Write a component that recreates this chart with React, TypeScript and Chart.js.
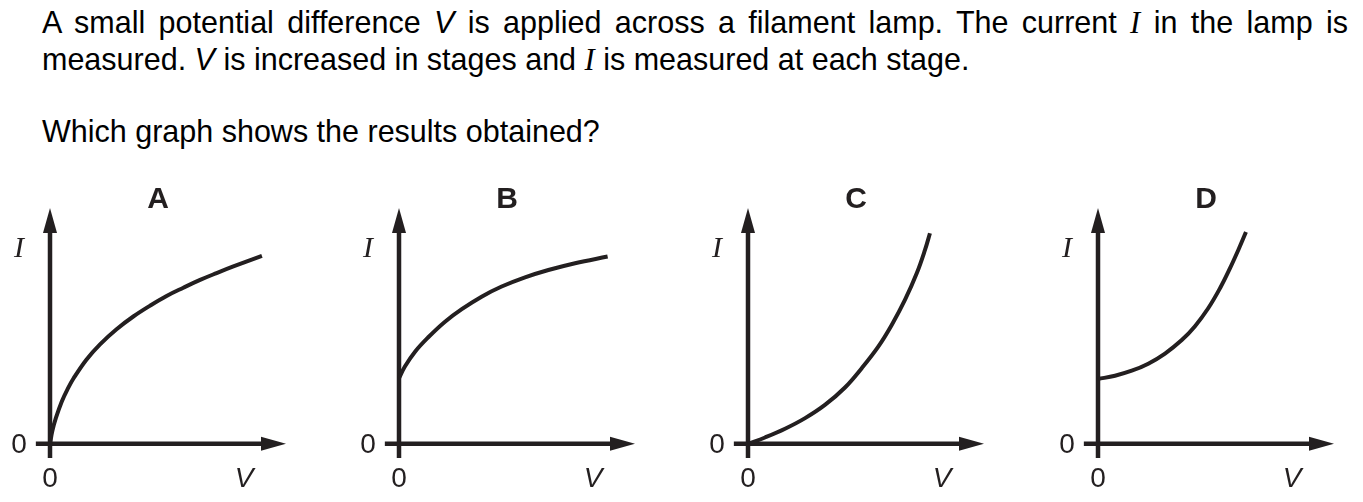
import React, { useEffect, useRef } from "react";
import { Chart, registerables } from "chart.js";

Chart.register(...registerables);

const INK = "#231f20";

// Panel letters
const panelLetters = ["A", "B", "C", "D"];

// Curves, in axis units (arrow tips are at 10)
const vA = [0, 0.1, 0.25, 0.5, 0.75, 1.0, 1.55, 2.12, 2.82, 3.53, 4.24, 4.94, 5.65, 6.36, 7.06, 7.77, 8.98];
const iA = [0, 0.55, 1.1, 1.8, 2.33, 2.78, 3.58, 4.22, 4.86, 5.4, 5.86, 6.27, 6.62, 6.95, 7.24, 7.52, 7.97];

const vB = [0, 0.25, 0.68, 1.24, 1.95, 2.66, 3.5, 4.35, 5.34, 6.33, 7.46, 8.84];
const iB = [2.78, 3.28, 3.91, 4.52, 5.18, 5.71, 6.24, 6.67, 7.06, 7.37, 7.66, 7.94];

const vC = [0, 0.72, 1.57, 2.42, 3.26, 4.11, 4.82, 5.52, 6.09, 6.65, 7.15, 7.5, 7.71];
const iC = [0, 0.27, 0.64, 1.09, 1.65, 2.39, 3.21, 4.12, 5.04, 6.1, 7.23, 8.22, 8.93];

const vD = [0, 0.72, 1.43, 2.13, 2.84, 3.55, 4.11, 4.67, 5.17, 5.59, 5.95, 6.27];
const iD = [2.75, 2.89, 3.1, 3.4, 3.83, 4.4, 4.99, 5.75, 6.6, 7.44, 8.23, 8.98];

const seriesV = [vA, vB, vC, vD];
const seriesI = [iA, iB, iC, iD];

// Axis texts
const originTick = "0";
const xAxisName = "V";
const yAxisName = "I";

const panelLeft = [0, 349, 698, 1048];

const arrowAxesPlugin = {
  id: "arrowAxes",
  beforeDatasetsDraw(chart: any) {
    const { ctx, scales } = chart;
    const x = scales.x;
    const y = scales.y;
    const x0 = x.getPixelForValue(0);
    const y0 = y.getPixelForValue(0);
    const xl = x.getPixelForValue(x.min);
    const xr = x.getPixelForValue(x.max);
    const yb = y.getPixelForValue(y.min);
    const yt = y.getPixelForValue(y.max);
    ctx.save();
    ctx.strokeStyle = INK;
    ctx.fillStyle = INK;
    ctx.lineWidth = 4.5;
    ctx.lineCap = "butt";
    ctx.beginPath();
    ctx.moveTo(xl, y0);
    ctx.lineTo(xr - 20, y0);
    ctx.moveTo(x0, yb);
    ctx.lineTo(x0, yt + 20);
    ctx.stroke();
    ctx.beginPath();
    ctx.moveTo(xr, y0);
    ctx.lineTo(xr - 25, y0 - 7);
    ctx.lineTo(xr - 25, y0 + 7);
    ctx.closePath();
    ctx.fill();
    ctx.beginPath();
    ctx.moveTo(x0, yt);
    ctx.lineTo(x0 - 7, yt + 25);
    ctx.lineTo(x0 + 7, yt + 25);
    ctx.closePath();
    ctx.fill();
    ctx.restore();
  },
  afterDatasetsDraw(chart: any, _args: any, opts: any) {
    const { ctx, scales } = chart;
    const x0 = scales.x.getPixelForValue(0);
    const y0 = scales.y.getPixelForValue(0);
    ctx.save();
    ctx.fillStyle = INK;
    ctx.textAlign = "center";
    ctx.textBaseline = "middle";
    ctx.font = '28px "Liberation Sans", Arial, sans-serif';
    ctx.fillText(originTick, x0 - 31, y0 + 1);
    ctx.fillText(originTick, x0, y0 + 35);
    ctx.font = 'italic 28px "Liberation Sans", Arial, sans-serif';
    ctx.fillText(xAxisName, x0 + 194, y0 + 35);
    ctx.font = 'italic 30px "Liberation Serif", "Times New Roman", serif';
    ctx.fillText(yAxisName, x0 - 31, y0 - 195);
    ctx.font = 'bold 30px "Liberation Sans", Arial, sans-serif';
    ctx.fillText(opts.letter, x0 + 108, y0 - 244);
    ctx.restore();
  },
};

function Panel({ index }: { index: number }) {
  const ref = useRef<HTMLCanvasElement>(null);
  useEffect(() => {
    if (!ref.current) return;
    const pts = seriesV[index].map((v, k) => ({ x: v, y: seriesI[index][k] }));
    const chart = new Chart(ref.current, {
      type: "line",
      data: {
        datasets: [
          {
            data: pts,
            borderColor: INK,
            borderWidth: 4,
            pointRadius: 0,
            tension: 0.4,
            fill: false,
          } as any,
        ],
      },
      options: {
        animation: false,
        responsive: false,
        maintainAspectRatio: false,
        events: [],
        layout: { padding: { left: 35.84, right: 14, top: 28, bottom: 44 } },
        scales: {
          x: { type: "linear", min: -0.6, max: 10, display: false },
          y: { type: "linear", min: -0.6, max: 10, display: false },
        },
        plugins: {
          legend: { display: false },
          tooltip: { enabled: false },
          arrowAxes: { letter: panelLetters[index] },
        } as any,
      },
      plugins: [arrowAxesPlugin],
    });
    return () => chart.destroy();
  }, [index]);
  return (
    <canvas
      ref={ref}
      width={300}
      height={322}
      style={{ position: "absolute", left: panelLeft[index], top: 180, width: 300, height: 322, display: "block" }}
    />
  );
}

const serifI = <i style={{ fontFamily: '"Liberation Serif", "Times New Roman", serif' }}>I</i>;

export default function App() {
  const lineStyle: React.CSSProperties = {
    position: "absolute",
    left: 42,
    width: 1306,
    fontSize: 30.5,
    lineHeight: "37px",
    whiteSpace: "nowrap",
  };
  return (
    <div
      style={{
        position: "absolute",
        left: 0,
        top: 0,
        width: 1363,
        height: 502,
        background: "#fff",
        color: "#000",
        fontFamily: '"Liberation Sans", Arial, Helvetica, sans-serif',
        overflow: "hidden",
      }}
    >
      <div style={{ ...lineStyle, top: 4, whiteSpace: "normal", textAlign: "justify", textAlignLast: "justify" }}>
        A small potential difference <i>V</i> is applied across a filament lamp. The current {serifI} in the lamp is
      </div>
      <div style={{ ...lineStyle, top: 41 }}>
        measured. <i>V</i> is increased in stages and {serifI} is measured at each stage.
      </div>
      <div style={{ ...lineStyle, top: 113 }}>Which graph shows the results obtained?</div>
      {panelLetters.map((_, i) => (
        <Panel key={i} index={i} />
      ))}
    </div>
  );
}
